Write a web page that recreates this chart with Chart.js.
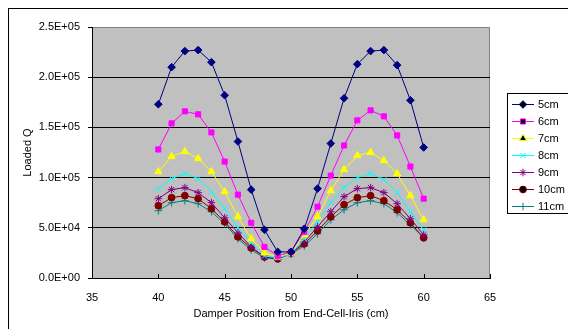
<!DOCTYPE html>
<html>
<head>
<meta charset="utf-8">
<script src="https://cdn.jsdelivr.net/npm/chart.js@4"></script>
<style>
  body { margin: 0; background: #fff; }
  #wrap { width: 568px; height: 329px; }
</style>
</head>
<body>
<div id="wrap"><canvas id="myChart" width="568" height="329"></canvas></div>
<script>
  // damper position (cm)
  const positions = [40, 41, 42, 43, 44, 45, 46, 47, 48, 49, 50, 51, 52, 53, 54, 55, 56, 57, 58, 59, 60];
  const seriesNames = ['5cm', '6cm', '7cm', '8cm', '9cm', '10cm', '11cm'];

  // loaded Q
  const q5cm = [173000, 210000, 226000, 227000, 215000, 182000, 136000, 88000, 48000, 26000, 26000, 49000, 89000, 134000, 179000, 213000, 226000, 227000, 212000, 177000, 130000];
  const q6cm = [128000, 154000, 166000, 163000, 145000, 116000, 83000, 55000, 31000, 22000, 26000, 46000, 71000, 102000, 132000, 157000, 167000, 161000, 142000, 111000, 79000];
  const q7cm = [106000, 121000, 126000, 119000, 106000, 86000, 61000, 39000, 25000, 21000, 25000, 43000, 61000, 87000, 108000, 122000, 125000, 117000, 104000, 82000, 58000];
  const q8cm = [89000, 99000, 104000, 99000, 86000, 69000, 50000, 35000, 22000, 20000, 24000, 39000, 56000, 75000, 90000, 100000, 104000, 98000, 85000, 66000, 48000];
  const q9cm = [79000, 88000, 90000, 85000, 75000, 60000, 45000, 31000, 21000, 20000, 24000, 36000, 51000, 66000, 81000, 89000, 90000, 85000, 74000, 59000, 43000];
  const q10cm = [72000, 80000, 82000, 79000, 69000, 56000, 41000, 30000, 21000, 19000, 25000, 34000, 47000, 61000, 73000, 80000, 82000, 77000, 68000, 55000, 40000];
  const q11cm = [67000, 75000, 77000, 74000, 66000, 54000, 39000, 28000, 20000, 19000, 24000, 32000, 44000, 58000, 68000, 75000, 77000, 74000, 65000, 53000, 40000];

  const xTicks = [35, 40, 45, 50, 55, 60, 65];

  const allQ = [q5cm, q6cm, q7cm, q8cm, q9cm, q10cm, q11cm];
  const colors = ['#000080', '#FF00FF', '#FFFF00', '#00FFFF', '#800080', '#800000', '#008080'];
  const markers = ['rectRot', 'rect', 'triangle', 'crossRot', 'star', 'circle', 'cross'];
  const markerSize = [3.8, 3.6, 4.2, 3.8, 3.8, 3.4, 3.8];

  const FONT = 'Liberation Sans, Arial, sans-serif';

  function sci(v) {
    if (v === 0) return '0.0E+00';
    let e = Math.floor(Math.log10(Math.abs(v)));
    let m = v / Math.pow(10, e);
    return m.toFixed(1) + 'E' + (e < 0 ? '-' : '+') + String(Math.abs(e)).padStart(2, '0');
  }

  const datasets = seriesNames.map(function (name, i) {
    return {
      label: name,
      data: positions.map(function (p, j) { return { x: p, y: allQ[i][j] }; }),
      borderColor: colors[i],
      backgroundColor: colors[i],
      borderWidth: 1,
      showLine: true,
      pointStyle: markers[i],
      pointRadius: markerSize[i],
      pointBorderWidth: 1,
      pointHoverRadius: markerSize[i]
    };
  });

  //background, plot area and the outer frame
  const frame = {
    id: 'frame',
    beforeDraw(chart) {
      const c = chart.ctx, a = chart.chartArea;
      c.save();
      c.fillStyle = '#fff';
      c.fillRect(0, 0, chart.width, chart.height);
      c.strokeStyle = '#000';
      c.lineWidth = 1;
      c.strokeRect(8.5, 8.5, chart.width + 20, chart.height + 20);
      c.fillStyle = '#C0C0C0';
      c.fillRect(a.left, a.top, a.right - a.left, a.bottom - a.top);
      c.strokeStyle = '#808080';
      c.beginPath();
      c.moveTo(a.left, a.top + 0.5);
      c.lineTo(a.right - 0.5, a.top + 0.5);
      c.lineTo(a.right - 0.5, a.bottom);
      c.stroke();
      c.restore();
    },
    afterDraw(chart) {
      const c = chart.ctx, a = chart.chartArea, xs = chart.scales.x;
      c.save();
      // inside tick marks on the x axis
      c.strokeStyle = '#000';
      c.lineWidth = 1;
      for (const t of xTicks) {
        const px = Math.round(xs.getPixelForValue(t)) + 0.5;
        c.beginPath();
        c.moveTo(px, a.bottom);
        c.lineTo(px, a.bottom - 4);
        c.stroke();
      }
      // legend box
      const lx = 507.5, ly = 93.5;
      c.strokeStyle = '#000';
      c.strokeRect(lx, ly, 100, 120);
      c.font = '11px ' + FONT;
      c.textBaseline = 'middle';
      c.textAlign = 'left';
      chart.data.datasets.forEach(function (ds, i) {
        const y = 104 + i * 17;
        c.strokeStyle = ds.borderColor;
        c.beginPath();
        c.moveTo(512, y + 0.5);
        c.lineTo(534, y + 0.5);
        c.stroke();
        Chart.helpers.drawPoint(c, {
          pointStyle: ds.pointStyle, radius: ds.pointRadius, borderWidth: 1, rotation: 0
        }, 523, y + 0.5);
        c.fillStyle = '#000';
        c.fillText(ds.label, 538, y + 1);
      });
      c.restore();
    }
  };

  const ctx = document.getElementById('myChart').getContext('2d');
  const myChart = new Chart(ctx, {
    type: 'scatter',
    data: { datasets: datasets },
    plugins: [frame],
    options: {
      responsive: false,
      animation: false,
      layout: { padding: { left: 8, right: 78, top: 27, bottom: 0 } },
      plugins: {
        legend: { display: false },
        tooltip: { enabled: false }
      },
      scales: {
        x: {
          type: 'linear',
          min: 35,
          max: 65,
          afterBuildTicks(axis) { axis.ticks = xTicks.map(function (v) { return { value: v }; }); },
          afterFit(axis) { axis.height = 51; },
          grid: { drawOnChartArea: false, drawTicks: false },
          border: { display: true, color: '#000', width: 1 },
          ticks: { color: '#000', padding: 13, maxRotation: 0, font: { family: FONT, size: 11 } },
          title: {
            display: true,
            text: 'Damper Position from End-Cell-Iris (cm)',
            color: '#000',
            font: { family: FONT, size: 11 },
            padding: { top: 0, bottom: 8 }
          }
        },
        y: {
          min: 0,
          max: 250000,
          afterFit(axis) { axis.width = 84; },
          grid: {
            color: function (c) { return c.tick && c.tick.value === 250000 ? 'rgba(0,0,0,0)' : '#000'; },
            tickColor: '#000',
            tickLength: 4
          },
          border: { display: true, color: '#000', width: 1 },
          ticks: {
            stepSize: 50000,
            padding: 8,
            color: '#000',
            font: { family: FONT, size: 11 },
            callback: function (v) { return sci(v); }
          },
          title: {
            display: true,
            text: 'Loaded Q',
            color: '#000',
            font: { family: FONT, size: 11 },
            padding: { top: 13, bottom: 0 }
          }
        }
      }
    }
  });
</script>
</body>
</html>
